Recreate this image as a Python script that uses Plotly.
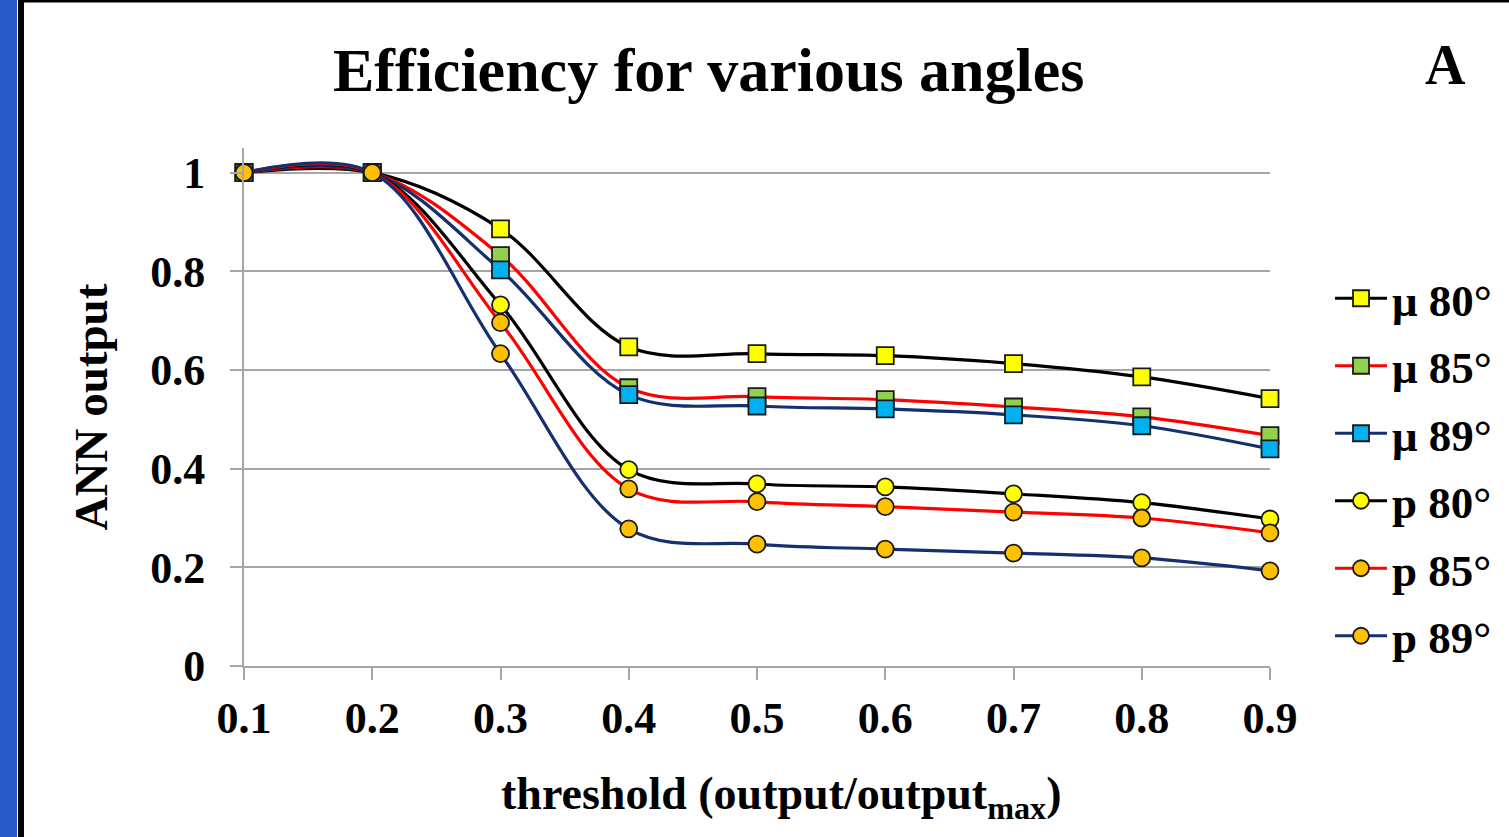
import plotly.graph_objects as go

# Threshold values (fraction of maximum output)
thresholds = [0.1, 0.2, 0.3, 0.4, 0.5, 0.6, 0.7, 0.8, 0.9]

# ANN output per particle type and zenith angle
mu_80 = [1.0, 1.0, 0.886, 0.647, 0.633, 0.629, 0.613, 0.586, 0.542]
mu_85 = [1.0, 1.0, 0.832, 0.564, 0.546, 0.540, 0.525, 0.505, 0.467]
mu_89 = [1.0, 1.0, 0.803, 0.550, 0.527, 0.521, 0.509, 0.487, 0.440]
p_80 = [1.0, 1.0, 0.732, 0.398, 0.369, 0.363, 0.349, 0.331, 0.298]
p_85 = [1.0, 1.0, 0.696, 0.359, 0.333, 0.323, 0.312, 0.300, 0.270]
p_89 = [1.0, 1.0, 0.633, 0.278, 0.247, 0.237, 0.229, 0.219, 0.193]

series_names = ["μ 80°", "μ 85°", "μ 89°", "p 80°", "p 85°", "p 89°"]
series_values = [mu_80, mu_85, mu_89, p_80, p_85, p_89]
line_colors = ["#000000", "#ff0000", "#14306e", "#000000", "#ff0000", "#14306e"]
marker_colors = ["#ffff00", "#92d050", "#00b0f0", "#ffff00", "#ffc000", "#ffc000"]
marker_symbols = ["square", "square", "square", "circle", "circle", "circle"]

SERIF = "Liberation Serif, Times New Roman, serif"

fig = go.Figure()
for i, (name, vals) in enumerate(zip(series_names, series_values)):
    fig.add_trace(go.Scatter(
        x=thresholds, y=vals, name=name, mode="lines+markers",
        legendgroup=f"g{i}",
        line=dict(color=line_colors[i], width=3.2, shape="spline", smoothing=1.0),
        marker=dict(symbol=marker_symbols[i], color=marker_colors[i], size=17,
                    line=dict(color="#1a1a1a", width=1.8)),
        cliponaxis=False,
    ))

W, H = 1509, 837
L, R, T, B = 244, 239, 148, 171
pw = W - L - R
ph = H - T - B


def px_x(p):
    return (p - L) / pw


def px_y(p):
    return (H - B - p) / ph


fig.update_layout(
    width=W, height=H,
    margin=dict(l=L, r=R, t=T, b=B, autoexpand=False),
    paper_bgcolor="white", plot_bgcolor="white",
    font=dict(family=SERIF, color="black", size=40),
    showlegend=True,
    legend=dict(
        x=px_x(1330), xanchor="left", y=px_y(467), yanchor="middle",
        font=dict(family=SERIF, size=45, color="black", weight="bold"),
        tracegroupgap=6, itemwidth=52, bgcolor="rgba(0,0,0,0)",
    ),
    xaxis=dict(
        range=[0.1, 0.9], tickvals=thresholds,
        ticktext=[f"{v:.1f}" for v in thresholds],
        showgrid=False, zeroline=False,
        showline=True, linecolor="#a6a6a6", linewidth=2,
        ticks="outside", ticklen=12, tickwidth=2, tickcolor="#a6a6a6",
        tickfont=dict(family=SERIF, size=44, color="black", weight="bold"),
    ),
    yaxis=dict(
        range=[0, 1.05], tickvals=[0, 0.2, 0.4, 0.6, 0.8, 1.0],
        ticktext=["0", "0.2", "0.4", "0.6", "0.8", "1"],
        showgrid=True, gridcolor="#a6a6a6", gridwidth=2, zeroline=False,
        showline=True, linecolor="#a6a6a6", linewidth=2,
        ticks="outside", ticklen=12, tickwidth=2, tickcolor="#a6a6a6",
        tickfont=dict(family=SERIF, size=44, color="black", weight="bold"),
        ticklabelstandoff=16,
        title=dict(text="<b>ANN output</b>",
                   font=dict(family=SERIF, size=47, color="black"), standoff=28),
    ),
    annotations=[
        dict(text="<b>Efficiency for various angles</b>", xref="paper", yref="paper",
             x=px_x(708), y=px_y(70), xanchor="center", yanchor="middle",
             showarrow=False, font=dict(family=SERIF, size=62, color="black")),
        dict(text="<b>A</b>", xref="paper", yref="paper",
             x=px_x(1445), y=px_y(65), xanchor="center", yanchor="middle",
             showarrow=False, font=dict(family=SERIF, size=56, color="black")),
        dict(text="<b>threshold (output/output<sub>max</sub>)</b>", xref="paper", yref="paper",
             x=px_x(781), y=px_y(797), xanchor="center", yanchor="middle",
             showarrow=False, font=dict(family=SERIF, size=46, color="black")),
    ],
    shapes=[
        # blue frame strip on the left
        dict(type="rect", xref="paper", yref="paper", x0=px_x(0), x1=px_x(17),
             y0=px_y(H + 5), y1=px_y(-5),
             fillcolor="#2659c6", line=dict(width=0), layer="below"),
        # black border lines
        dict(type="line", xref="paper", yref="paper", x0=px_x(21), x1=px_x(21),
             y0=px_y(H + 5), y1=px_y(-5),
             line=dict(color="black", width=6)),
        dict(type="line", xref="paper", yref="paper", x0=px_x(18), x1=px_x(W + 5),
             y0=px_y(1), y1=px_y(1),
             line=dict(color="black", width=3)),
    ],
)

fig.write_html("out.html")
